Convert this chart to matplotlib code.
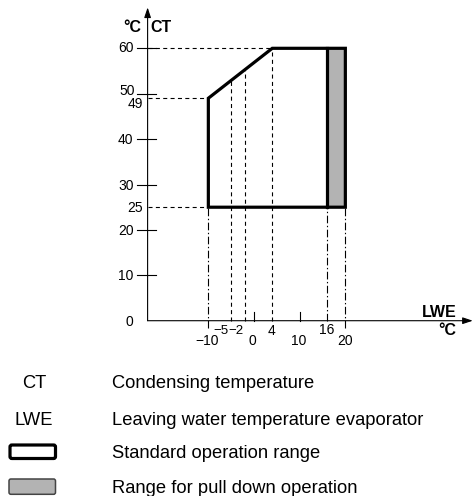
import numpy as np
import matplotlib
matplotlib.use("Agg")
import matplotlib.pyplot as plt
from matplotlib.patches import FancyBboxPatch

plt.rcParams['font.family'] = ['Liberation Sans', 'DejaVu Sans']
plt.rcParams['lines.scale_dashes'] = False

# ---------------- data ----------------
std_lwe = [-10, -10, 4, 20, 20]      # standard operation range outline (LWE, °C)
std_ct = [25, 49, 60, 60, 25]        # (CT, °C)
pull_lwe = [16, 20]                  # pull-down range LWE limits
pull_ct = [25, 60]                   # pull-down range CT limits
y_tick_vals = [10, 20, 30, 40, 50, 60]
y_label_vals = [0, 10, 20, 25, 30, 40, 49, 50, 60]
x_tick_vals = [0, 10]
x_label_vals = [-10, -5, -2, 0, 4, 10, 16, 20]
x_guides_dashed = [-5, -2, 4]
x_guides_dashdot = [-10, 16, 20]
y_guides = [60, 49, 25]
legend_symbols = ['CT', 'LWE']
legend_texts = ['Condensing temperature',
                'Leaving water temperature evaporator',
                'Standard operation range',
                'Range for pull down operation']

GREY = '#b3b3b3'

fig = plt.figure(figsize=(4.74, 4.96), dpi=100)
ax = fig.add_axes([0, 0, 1, 1])
ax.set_xlim(-55.62, 48.17)
ax.set_ylim(-38.61, 70.64)
ax.axis('off')

SX, SY = 4.567, 4.54          # px per data unit
AX_X = -23.3                  # location of CT axis on the LWE scale
X_END = 47.9
Y_END = 69.0

def lx(px):
    return px / SX

def ly(px):
    return px / SY

dash = (0, (2.9, 2.4))
dashdot = (0, (5.5, 1.8, 1.0, 1.8))
thin = 0.8

# pull-down range fill
ax.fill_between(pull_lwe, pull_ct[0], pull_ct[1], color=GREY, lw=0, zorder=1)

# horizontal guides
for v in y_guides:
    xend = np.interp(v, [std_ct[1], std_ct[2]], [std_lwe[1], std_lwe[2]]) if v > std_ct[1] else std_lwe[0]
    ax.plot([AX_X, xend], [v, v], color='black', lw=thin, ls=dash, zorder=2)

# vertical guides
for v in x_guides_dashed:
    top = np.interp(v, [std_lwe[1], std_lwe[2]], [std_ct[1], std_ct[2]])
    ax.plot([v, v], [0, top], color='black', lw=thin, ls=dash, zorder=2)
for v in x_guides_dashdot:
    bottom = 0 if v == 16 else -ly(7)
    ax.plot([v, v], [bottom, std_ct[0]], color='black', lw=thin, ls=dashdot, zorder=2)

# range outlines
ax.fill(std_lwe, std_ct, facecolor='none', edgecolor='black', lw=2.3,
        joinstyle='miter', zorder=4)
ax.plot([pull_lwe[0]] * 2, pull_ct, color='black', lw=2.3, zorder=4)

# axes with arrows
arrow = dict(arrowstyle='-|>,head_length=0.6,head_width=0.2', lw=thin,
             color='black', shrinkA=0, shrinkB=0)
ax.annotate('', xy=(AX_X, Y_END), xytext=(AX_X, 0), arrowprops=arrow, zorder=5)
ax.annotate('', xy=(X_END, 0), xytext=(AX_X, 0), arrowprops=arrow, zorder=5)

# y ticks
for v in y_tick_vals:
    ax.plot([AX_X - lx(11), AX_X + lx(8)], [v, v], color='black', lw=thin, zorder=5)
# x ticks
for v in x_tick_vals:
    ax.plot([v, v], [0, ly(8.5)], color='black', lw=thin, zorder=5)

# y labels
ylab_off = {60: (-14, -3.5), 50: (-13, -1.7), 49: (-4.3, -10), 25: (-4.3, -4.4)}
for v in y_label_vals:
    dx, dy = ylab_off.get(v, (-14, -5))
    ax.annotate(str(v), xy=(AX_X, v), xytext=(dx, dy), textcoords='offset pixels',
                ha='right', va='baseline', fontsize=10)

# x labels: (dx, dy, ha, size)
xlab_fmt = {-10: (-1.5, -24, 'center', 10), -5: (-2.6, -13, 'right', 9.5),
            -2: (-0.9, -13, 'right', 9.5), 0: (-1.5, -24, 'center', 10),
            4: (-1, -14.5, 'center', 10), 10: (-0.5, -24, 'center', 10),
            16: (0, -13.5, 'center', 10), 20: (0, -24, 'center', 10)}
for v in x_label_vals:
    dx, dy, ha, fs = xlab_fmt[v]
    ax.annotate(str(v).replace('-', '\u2212'), xy=(v, 0), xytext=(dx, dy),
                textcoords='offset pixels', ha=ha, va='baseline', fontsize=fs)

# axis titles
ax.annotate('°C', xy=(AX_X, Y_END), xytext=(-6, -24.4), textcoords='offset pixels',
            ha='right', va='baseline', fontsize=11.5, fontweight='bold')
ax.annotate('CT', xy=(AX_X, Y_END), xytext=(2.3, -24.4), textcoords='offset pixels',
            ha='left', va='baseline', fontsize=11.5, fontweight='bold')
ax.annotate('LWE', xy=(X_END, 0), xytext=(-16.3, 3.4), textcoords='offset pixels',
            ha='right', va='baseline', fontsize=11.5, fontweight='bold')
ax.annotate('°C', xy=(X_END, 0), xytext=(-16.3, -14.3), textcoords='offset pixels',
            ha='right', va='baseline', fontsize=11.5, fontweight='bold')

# ---------------- legend (figure pixel coords) ----------------
W, H = 474, 496

def fx(px):
    return px / W

def fy(py):
    return 1 - py / H

LEG_FS = 13.2
for i, sym in enumerate(legend_symbols):
    base = [388.3, 425][i]
    fig.text(fx(34), fy(base), sym, ha='center', va='baseline', fontsize=LEG_FS)
for i, txt in enumerate(legend_texts):
    base = [388.3, 425, 458.3, 493.3][i]
    fig.text(fx(111.7), fy(base), txt, ha='left', va='baseline', fontsize=LEG_FS)

r1 = FancyBboxPatch((fx(10), fy(458.5)), fx(45.5), 13.5 / H,
                    boxstyle='round,pad=0,rounding_size=0.004',
                    transform=fig.transFigure, facecolor='white',
                    edgecolor='black', lw=2.3)
fig.patches.append(r1)
r2 = FancyBboxPatch((fx(9), fy(494.3)), fx(46.5), 15.3 / H,
                    boxstyle='round,pad=0,rounding_size=0.004',
                    transform=fig.transFigure, facecolor=GREY,
                    edgecolor='#444444', lw=1.1)
fig.patches.append(r2)

fig.savefig('out.png', dpi=100)
